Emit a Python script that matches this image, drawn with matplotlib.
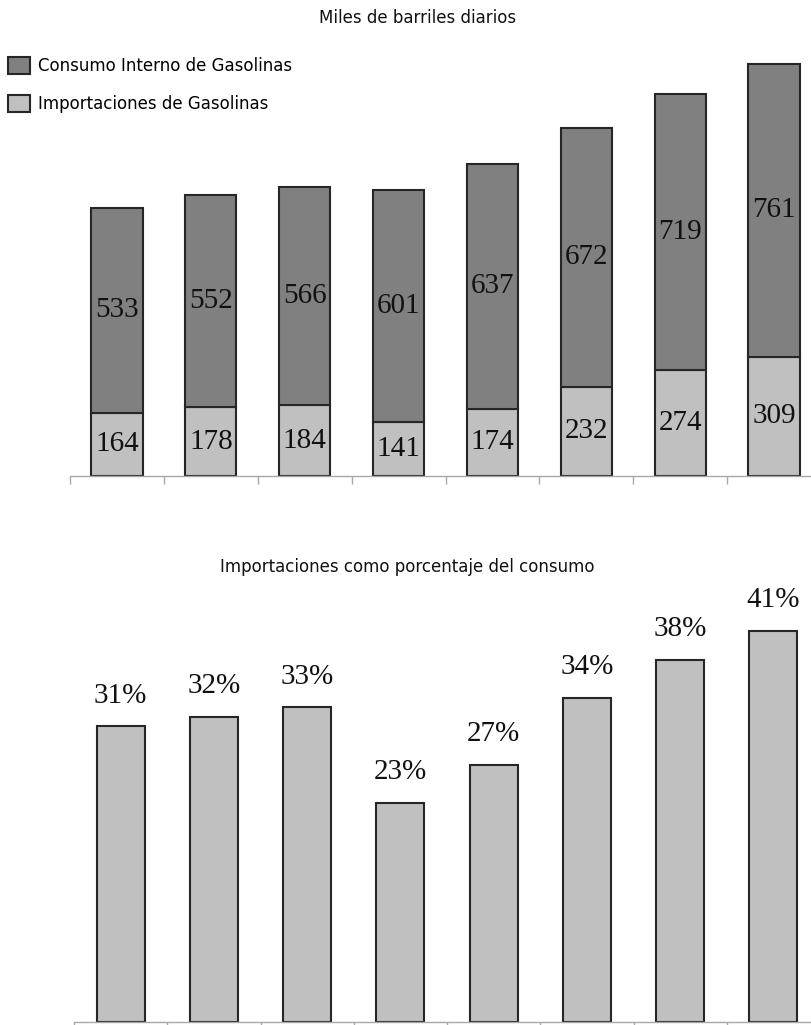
import matplotlib.pyplot as plt
import numpy as np

# barrels per day (thousands)
consumo = [533, 552, 566, 601, 637, 672, 719, 761]
importaciones = [164, 178, 184, 141, 174, 232, 274, 309]
# imports as share of consumption, as labelled
porcentaje = [31, 32, 33, 23, 27, 34, 38, 41]

DARK = '#808080'
LIGHT = '#c0c0c0'
EDGE = '#262626'
AXIS = '#a8a8a8'
num_font = dict(family='Liberation Serif', size=21, color='#111111')

W, H = 811, 1025
fig = plt.figure(figsize=(W / 100, H / 100), dpi=100)


def px_axes(left, right, bottom, top):
    return fig.add_axes([left / W, 1 - bottom / H, (right - left) / W, (bottom - top) / H])


def style_axis(ax):
    for side in ('left', 'right', 'top'):
        ax.spines[side].set_visible(False)
    ax.spines['bottom'].set_color(AXIS)
    ax.spines['bottom'].set_linewidth(1.0)
    ax.set_yticks([])
    ax.set_xticks(np.arange(8) - 0.5)
    ax.set_xticklabels([])
    ax.tick_params(axis='x', direction='out', length=6, width=1.0, color=AXIS)
    ax.set_xlim(-0.5, 7.5)


x = np.arange(len(consumo))

# stacked bars: imports at the bottom, domestic consumption on top
ax1 = px_axes(70, 821, 476, 40)
b_imp = ax1.bar(x, importaciones, width=0.545, color=LIGHT, edgecolor=EDGE, linewidth=1.5)
b_con = ax1.bar(x, consumo, width=0.545, bottom=importaciones, color=DARK, edgecolor=EDGE, linewidth=1.5)
ax1.set_ylim(0, 1132)
style_axis(ax1)

for xi, imp, con in zip(x, importaciones, consumo):
    ax1.text(xi, imp / 2, str(imp), ha='center', va='center', **num_font)
    ax1.text(xi, imp + con / 2, str(con), ha='center', va='center', **num_font)

fig.legend([b_con, b_imp], ['Consumo Interno de Gasolinas', 'Importaciones de Gasolinas'],
           loc='upper left', bbox_to_anchor=(8 / W, 1 - 57 / H), frameon=False,
           fontsize=12, handlelength=1.32, handleheight=1.2, handletextpad=0.48,
           labelspacing=1.2, borderpad=0, borderaxespad=0)

fig.text(418 / W, 1 - 18 / H, 'Miles de barriles diarios', ha='center', va='center',
         fontsize=12, color='#111111')

# percentage bars
ax2 = px_axes(74, 820, 1022, 600)
ax2.bar(x, porcentaje, width=0.515, color=LIGHT, edgecolor=EDGE, linewidth=1.5)
ax2.set_ylim(0, 44.25)
style_axis(ax2)

for xi, p in zip(x, porcentaje):
    ax2.annotate(f'{p}%', (xi, p), xytext=(0, 22), textcoords='offset points',
                 ha='center', va='center', **num_font)

fig.text(407 / W, 1 - 567 / H, 'Importaciones como porcentaje del consumo', ha='center',
         va='center', fontsize=12, color='#111111')

fig.savefig('out.png', dpi=100)
